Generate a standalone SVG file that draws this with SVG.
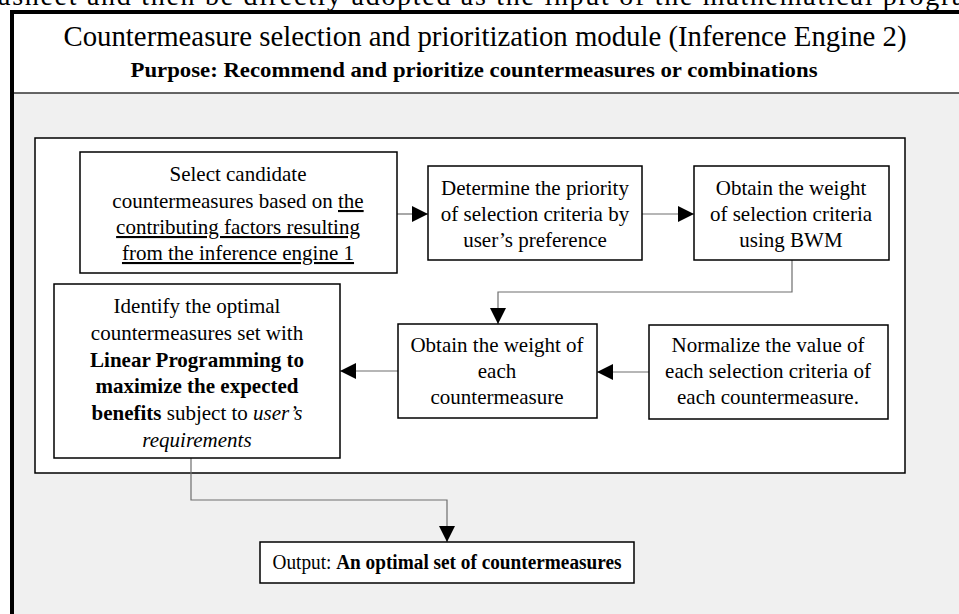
<svg xmlns="http://www.w3.org/2000/svg" width="959" height="614" viewBox="0 0 959 614">
  <defs>
    <marker id="arrow" viewBox="0 0 16 16" refX="16" refY="8" markerWidth="16" markerHeight="16" markerUnits="userSpaceOnUse" orient="auto">
      <path d="M0,0 L16,8 L0,16 Z" fill="#000"/>
    </marker>
    <style>
      text { font-family: "Liberation Serif", "Times New Roman", serif; fill: #000; }
      .box { fill: #fff; stroke: #000; stroke-width: 1.5; }
      .node text { font-size: 21px; text-anchor: middle; }
      .conn { fill: none; stroke: #6e6e6e; stroke-width: 1.2; marker-end: url(#arrow); }
      .b { font-weight: bold; }
      .i { font-style: italic; }
      .u { text-decoration: underline; }
    </style>
  </defs>

  <!-- running text of the page above the figure, cut at the top edge -->
  <text x="-2" y="5" font-size="28" textLength="990" lengthAdjust="spacing">asheet and then be directly adopted as the input of the mathematical program</text>

  <!-- module frame -->
  <rect x="12" y="12" width="960" height="620" fill="#f0f0f0"/>
  <rect x="12" y="12" width="960" height="81" fill="#fff"/>
  <line x1="12" y1="93" x2="959" y2="93" stroke="#333" stroke-width="1.5"/>
  <path d="M12,614 L12,12 L959,12" fill="none" stroke="#000" stroke-width="4"/>

  <g id="header">
    <text x="485" y="46" font-size="28.5" text-anchor="middle" textLength="843" lengthAdjust="spacingAndGlyphs">Countermeasure selection and prioritization module (Inference Engine 2)</text>
    <text x="474" y="77" font-size="22" text-anchor="middle" class="b" textLength="687" lengthAdjust="spacingAndGlyphs">Purpose: Recommend and prioritize countermeasures or combinations</text>
  </g>

  <!-- process panel -->
  <rect id="panel" x="35" y="138" width="870" height="335" fill="#fff" stroke="#000" stroke-width="1.5"/>

  <g id="connectors">
    <line class="conn" x1="397" y1="214" x2="428" y2="214"/>
    <line class="conn" x1="642" y1="214" x2="694" y2="214"/>
    <polyline class="conn" points="792,260 792,292 498,292 498,324"/>
    <line class="conn" x1="649" y1="372" x2="597" y2="372"/>
    <line class="conn" x1="398" y1="371" x2="340" y2="371"/>
    <polyline class="conn" points="191,458 191,500 447,500 447,542"/>
  </g>

  <g id="select-candidates" class="node">
    <rect class="box" x="80" y="152" width="317" height="121"/>
    <text x="238" y="181">Select candidate</text>
    <text x="238" y="208">countermeasures based on <tspan class="u">the</tspan></text>
    <text x="238" y="234" class="u">contributing factors resulting</text>
    <text x="238" y="260" class="u">from the inference engine 1</text>
  </g>

  <g id="criteria-priority" class="node">
    <rect class="box" x="428" y="166" width="214" height="94"/>
    <text x="535" y="195">Determine the priority</text>
    <text x="535" y="221">of selection criteria by</text>
    <text x="535" y="247">user’s preference</text>
  </g>

  <g id="criteria-weight" class="node">
    <rect class="box" x="694" y="166" width="195" height="94"/>
    <text x="791" y="195">Obtain the weight</text>
    <text x="791" y="221">of selection criteria</text>
    <text x="791" y="247">using BWM</text>
  </g>

  <g id="countermeasure-weight" class="node">
    <rect class="box" x="398" y="324" width="199" height="94"/>
    <text x="497" y="352">Obtain the weight of</text>
    <text x="497" y="378">each</text>
    <text x="497" y="404">countermeasure</text>
  </g>

  <g id="normalize" class="node">
    <rect class="box" x="649" y="325" width="239" height="94"/>
    <text x="768" y="352">Normalize the value of</text>
    <text x="768" y="378">each selection criteria of</text>
    <text x="768" y="404">each countermeasure.</text>
  </g>

  <g id="optimal-set" class="node">
    <rect class="box" x="54" y="284" width="286" height="174"/>
    <text x="197" y="313">Identify the optimal</text>
    <text x="197" y="340">countermeasures set with</text>
    <text x="197" y="367" class="b">Linear Programming to</text>
    <text x="197" y="393" class="b">maximize the expected</text>
    <text x="197" y="420"><tspan class="b">benefits</tspan> subject to <tspan class="i">user’s</tspan></text>
    <text x="197" y="447" class="i">requirements</text>
  </g>

  <g id="output" class="node">
    <rect class="box" x="260" y="542" width="374" height="41"/>
    <text x="447" y="569" style="font-size:20.5px" textLength="349" lengthAdjust="spacingAndGlyphs">Output: <tspan class="b">An optimal set of countermeasures</tspan></text>
  </g>
</svg>
